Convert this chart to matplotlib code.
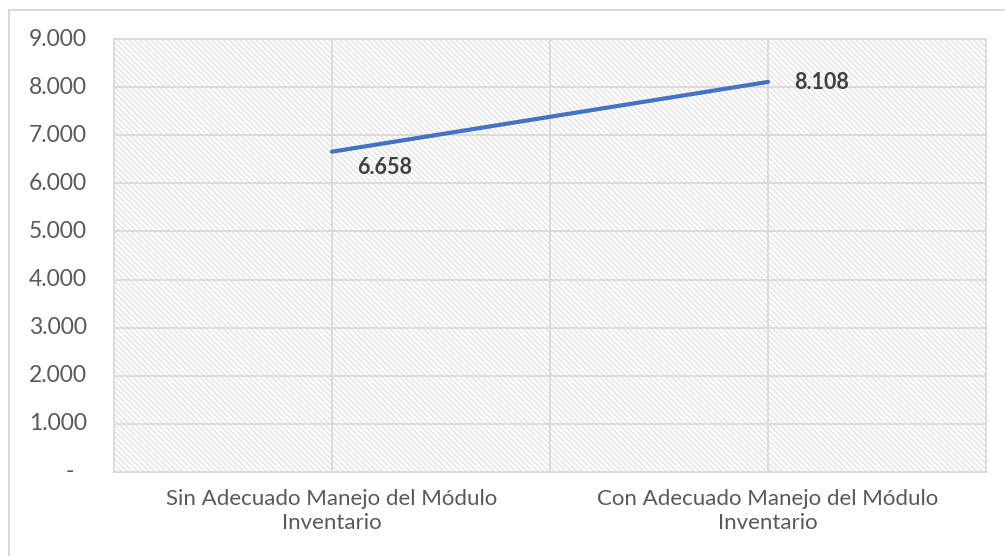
import matplotlib.pyplot as plt
from matplotlib.patches import Rectangle
import matplotlib.transforms as mtransforms

categories = ["Sin Adecuado Manejo del Módulo\nInventario",
              "Con Adecuado Manejo del Módulo\nInventario"]
values = [6658, 8108]
value_labels = ["6.658", "8.108"]
y_ticks = [0, 1000, 2000, 3000, 4000, 5000, 6000, 7000, 8000, 9000]
y_tick_labels = ["-", "1.000", "2.000", "3.000", "4.000", "5.000",
                 "6.000", "7.000", "8.000", "9.000"]

plt.rcParams["font.family"] = ["Lato", "DejaVu Sans"]
plt.rcParams["hatch.color"] = "#E0E0E0"
plt.rcParams["hatch.linewidth"] = 0.9

grid_c = "#D9D9D9"
fig = plt.figure(figsize=(10.05, 5.56), dpi=100)

# outer chart border (only left and top visible in the crop)
fig.patches.append(Rectangle((9/1005, -0.1), 1.2, 1 - 10/556 + 0.1,
                             transform=fig.transFigure, fill=False,
                             edgecolor=grid_c, lw=1.5))

ax = fig.add_axes([114/1005, 1 - 472/556, 872/1005, 433/556])
ax.add_patch(Rectangle((0, 0), 1, 1, transform=ax.transAxes, facecolor="white",
                       edgecolor="#E0E0E0", hatch="\\\\\\\\\\\\", lw=0, zorder=0))

x = list(range(len(values)))
for yv in y_ticks[1:]:
    ax.axhline(yv, color=grid_c, lw=1.3, zorder=1)
for xv in [0, 0.5, 1]:
    ax.axvline(xv, color=grid_c, lw=1.3, zorder=1)

ax.plot(x, values, color="#4472C4", lw=3.0, solid_capstyle="round", zorder=3)

ax.annotate(value_labels[0], (x[0], values[0]), xytext=(53, -16),
            textcoords="offset pixels", ha="center", va="center",
            fontsize=15.5, fontweight="bold", color="#404040")
ax.annotate(value_labels[1], (x[1], values[1]), xytext=(54, -1),
            textcoords="offset pixels", ha="center", va="center",
            fontsize=15.5, fontweight="bold", color="#404040")

ax.set_xlim(-0.5, 1.5)
ax.set_ylim(0, 9000)
ax.set_yticks(y_ticks)
ax.set_yticklabels([])
ax.set_xticks(x)
ax.set_xticklabels(categories, linespacing=1.3)
ax.tick_params(axis="both", length=0, labelsize=16, colors="#595959")
ax.tick_params(axis="x", pad=12)

# y labels drawn by hand: the dash sits further right than the numbers
ytrans = mtransforms.blended_transform_factory(ax.transAxes, ax.transData)
for yv, lab in zip(y_ticks, y_tick_labels):
    off = 12 if lab == "-" else 0
    t = mtransforms.offset_copy(ytrans, fig=fig, x=-56 + off, y=0, units="dots")
    ax.text(0, yv, lab, transform=t, ha="center", va="center",
            fontsize=16.5, color="#595959")

for s in ax.spines.values():
    s.set_color(grid_c)
    s.set_linewidth(1.3)

fig.savefig("out.png", dpi=100)
